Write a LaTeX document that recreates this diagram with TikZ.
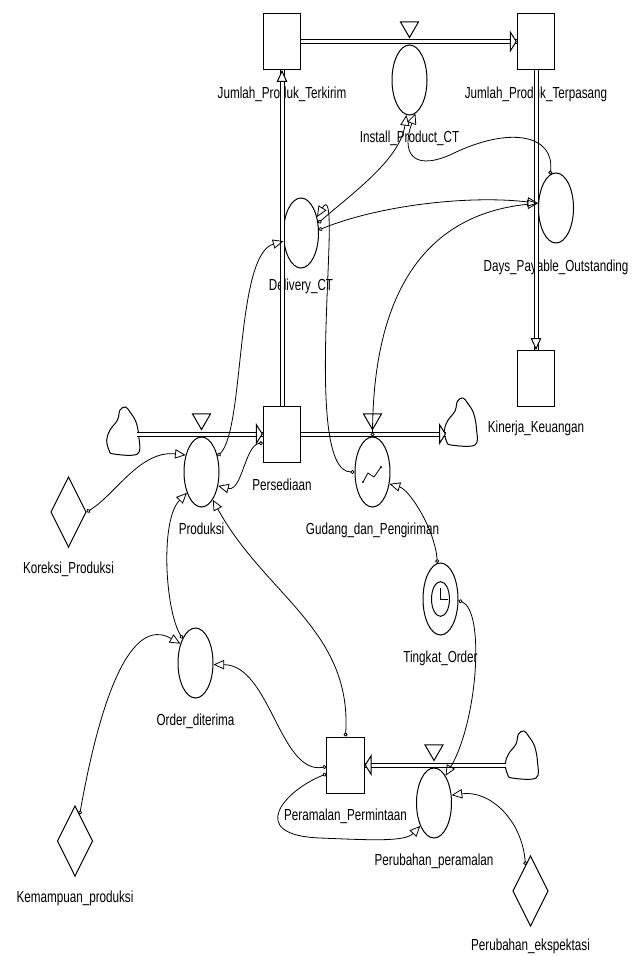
\documentclass[tikz,border=0pt]{standalone}
\usepackage{fontspec}
\setmainfont{Liberation Sans}[FakeStretch=0.73]
\usepackage{tikz}
\usetikzlibrary{arrows.meta}
\usetikzlibrary{positioning}
\usetikzlibrary{shapes.geometric}
\tikzset{
    stock/.style={
           rectangle,
           draw=black, line width=0.75pt,
           minimum width=28pt,
           minimum height=42pt,
           inner sep=0pt,
           },
    aux/.style={
           ellipse,
           draw=black, line width=0.75pt,
           minimum width=26.25pt,
           minimum height=52.5pt,
           inner sep=0pt,
           },
    const/.style={
           diamond,
           draw=black, line width=0.75pt,
           minimum width=26.5pt,
           minimum height=53pt,
           inner sep=0pt,
           },
    valve/.style={
           regular polygon, regular polygon sides=3,
           shape border rotate=180,
           draw=black, line width=0.75pt,
           minimum size=15.6pt,
           inner sep=0pt,
           },
    source/.style={
           rectangle,
           minimum width=24pt,
           minimum height=36pt,
           inner sep=0pt,
           },
    lbl/.style={
           font=\fontsize{12pt}{14pt}\selectfont,
           inner sep=0pt,
           text centered,
           },
    flow/.style={
           draw=black, line width=0.75pt,
           double=white, double distance=2.25pt,
           },
    ftip/.style={-{Triangle[fill=white, length=5.25pt, width=16.5pt]}, line width=0.75pt},
    vtip/.style={-{Triangle[fill=white, length=9pt, width=8pt]}, line width=0.75pt},
    link/.style={{Circle[open, length=3pt]}-{Triangle[open, length=8pt, width=7pt]}, line width=0.6pt},
}

\begin{document}
\begin{tikzpicture}[x=0.75pt, y=0.75pt, node distance=11pt]
	\useasboundingbox (0,0) rectangle (642,-956);

	% stocks
	\node[stock] (terkirim) at (282,-41.5) {};
	\node[stock] (terpasang) at (536,-41.5) {};
	\node[stock] (kinerja) at (536,-378.5) {};
	\node[stock] (persediaan) at (282,-434) {};
	\node[stock] (peramalan) at (345.5,-765) {};

	% rates and auxiliaries
	\node[aux] (install) at (409.5,-80) {};
	\node[aux] (delivery) at (301,-233) {};
	\node[aux] (dpo) at (556,-208) {};
	\node[aux] (produksi) at (201.5,-472) {};
	\node[aux] (gudang) at (372.5,-472) {};
	\node[aux, minimum height=54pt] (tingkat) at (440.5,-599) {};
	\node[ellipse, draw, line width=0.75pt, inner sep=0pt,
		minimum width=13.5pt, minimum height=26pt] (tingkatC) at (tingkat) {};
	\node[aux] (order) at (195.5,-663) {};
	\node[aux] (perubahan) at (434,-803) {};

	\node[valve, anchor=corner 1] (installV) at ([yshift=4.5pt]install.north) {};
	\node[valve, anchor=corner 1] (produksiV) at ([yshift=4.5pt]produksi.north) {};
	\node[valve, anchor=corner 1] (gudangV) at ([yshift=4.5pt]gudang.north) {};
	\node[valve, anchor=corner 1] (perubahanV) at ([yshift=4.5pt]perubahan.north) {};

	% constants
	\node[const] (koreksi) at (68.5,-512) {};
	\node[const] (kemampuan) at (75,-841) {};
	\node[const] (ekspektasi) at (530.5,-891) {};

	% clouds
	\node[source] (cloudL) at (122.5,-431) {};
	\node[source] (cloudR) at (460,-422) {};
	\node[source] (cloudB) at (521,-755) {};
	\foreach \c in {cloudL,cloudR,cloudB}
		\draw[line width=0.75pt, shift={(\c.center)}] plot[smooth cycle, tension=0.6]
			coordinates {(-9,-23) (15,-23) (16.5,-7) (13.5,9) (7.5,19) (3,24)
				(-2.5,21) (-5,11) (-12.5,1) (-15.8,-9) (-13.5,-19)};

	% names
	\node[lbl, below=12.5pt of terkirim] (terkirimL) {Jumlah\_Produk\_Terkirim};
	\node[lbl, below=12.5pt of terpasang] (terpasangL) {Jumlah\_Produk\_Terpasang};
	\node[lbl, below=of install] (installL) {Install\_Product\_CT};
	\node[lbl, below=7.5pt of delivery] (deliveryL) {Delivery\_CT};
	\node[lbl, below=12pt of dpo] (dpoL) {Days\_Payable\_Outstanding};
	\node[lbl, below=10.5pt of kinerja] (kinerjaL) {Kinerja\_Keuangan};
	\node[lbl, below=12pt of persediaan] (persediaanL) {Persediaan};
	\node[lbl, below=of produksi] (produksiL) {Produksi};
	\node[lbl, below=of gudang] (gudangL) {Gudang\_dan\_Pengiriman};
	\node[lbl, below=10pt of koreksi] (koreksiL) {Koreksi\_Produksi};
	\node[lbl, below=of tingkat] (tingkatL) {Tingkat\_Order};
	\node[lbl, below=of order] (orderL) {Order\_diterima};
	\node[lbl, below=10pt of kemampuan] (kemampuanL) {Kemampuan\_produksi};
	\node[lbl, below=11pt of peramalan] (peramalanL) {Peramalan\_Permintaan};
	\node[lbl, below=of perubahan] (perubahanL) {Perubahan\_peramalan};
	\node[lbl, below=8.5pt of ekspektasi] (ekspektasiL) {Perubahan\_ekspektasi};

	% clock and graph marks
	\draw[line width=0.75pt] (tingkatC.center) ++(0,11) -- (tingkatC.center) -- ++(7,0);
	\draw[line width=0.6pt] (gudang.center) ++(-9.5,-10) -- ++(5,9) -- ++(6,-4) -- ++(7,10);
	\fill (gudang.center) ++(-9.5,-10) circle (1.2);
	\fill (gudang.center) ++(8.5,5) circle (1.2);

	% flows
	\coordinate (gudangEnd) at ([xshift=-10.5pt]cloudR.center |- persediaan);
	\coordinate (ramalStart) at ([xshift=-11pt]cloudB.center |- peramalan);
	\draw[flow] ([xshift=11pt]cloudL.center |- persediaan) -- (persediaan.west);
	\draw[ftip] ([xshift=-1pt]persediaan.west) -- (persediaan.west);
	\draw[flow] (persediaan.east) -- (gudangEnd);
	\draw[ftip] ([xshift=-1pt]gudangEnd) -- (gudangEnd);
	\draw[flow] (persediaan.north) -- (terkirim.south);
	\draw[vtip] ([yshift=-1pt]terkirim.south) -- (terkirim.south);
	\draw[flow] (terkirim.east) -- (terpasang.west);
	\draw[ftip] ([xshift=-1pt]terpasang.west) -- (terpasang.west);
	\draw[flow] (terpasang.south) -- (kinerja.north);
	\draw[vtip] ([yshift=1pt]kinerja.north) -- (kinerja.north);
	\draw[flow] (ramalStart) -- (peramalan.east);
	\draw[ftip] ([xshift=1pt]peramalan.east) -- (peramalan.east);

	% links
	\draw[link] (koreksi.east) .. controls (115,-495) and (140,-450) .. (produksi.133);
	\draw[link] (persediaan.205) .. controls (245,-445) and (242,-492) .. (produksi.-40);
	\draw[link] (produksi.45) .. controls (245,-430) and (235,-255) .. (delivery.205);
	\draw[link] (gudang.west) .. controls (300,-472) and (345,-170) .. (delivery.45);
	\draw[link] (delivery.30) .. controls (350,-195) and (400,-160) .. (install.265);
	\draw[link] (dpo.100) .. controls (555,-135) and (510,-125) .. (450,-155)
		.. controls (410,-172) and (402,-150) .. (install.280);
	\draw[link] (delivery.10) .. controls (380,-205) and (470,-195) .. (dpo.165);
	\draw[link] (gudang.north) .. controls (373,-300) and (420,-215) .. (dpo.165);
	\draw[link] (tingkat.95) .. controls (435,-530) and (410,-490) .. (gudang.-35);
	\draw[link] (tingkat.-5) .. controls (485,-610) and (478,-720) .. (perubahan.67);
	\draw[link] (peramalan.north) .. controls (352,-630) and (265,-595) .. (produksi.-68);
	\draw[link] (order.118) .. controls (165,-610) and (160,-520) .. (produksi.235);
	\draw[link] (kemampuan.80) .. controls (100,-700) and (130,-615) .. (order.128);
	\draw[link] (peramalan.185) .. controls (280,-775) and (270,-665) .. (order.-5);
	\draw[link] (peramalan.205) .. controls (285,-790) and (245,-835) .. (320,-838)
		.. controls (370,-840) and (405,-842) .. (perubahan.239);
	\draw[link] (ekspektasi.101) .. controls (522,-820) and (490,-790) .. (perubahan.24);

\end{tikzpicture}
\end{document}
